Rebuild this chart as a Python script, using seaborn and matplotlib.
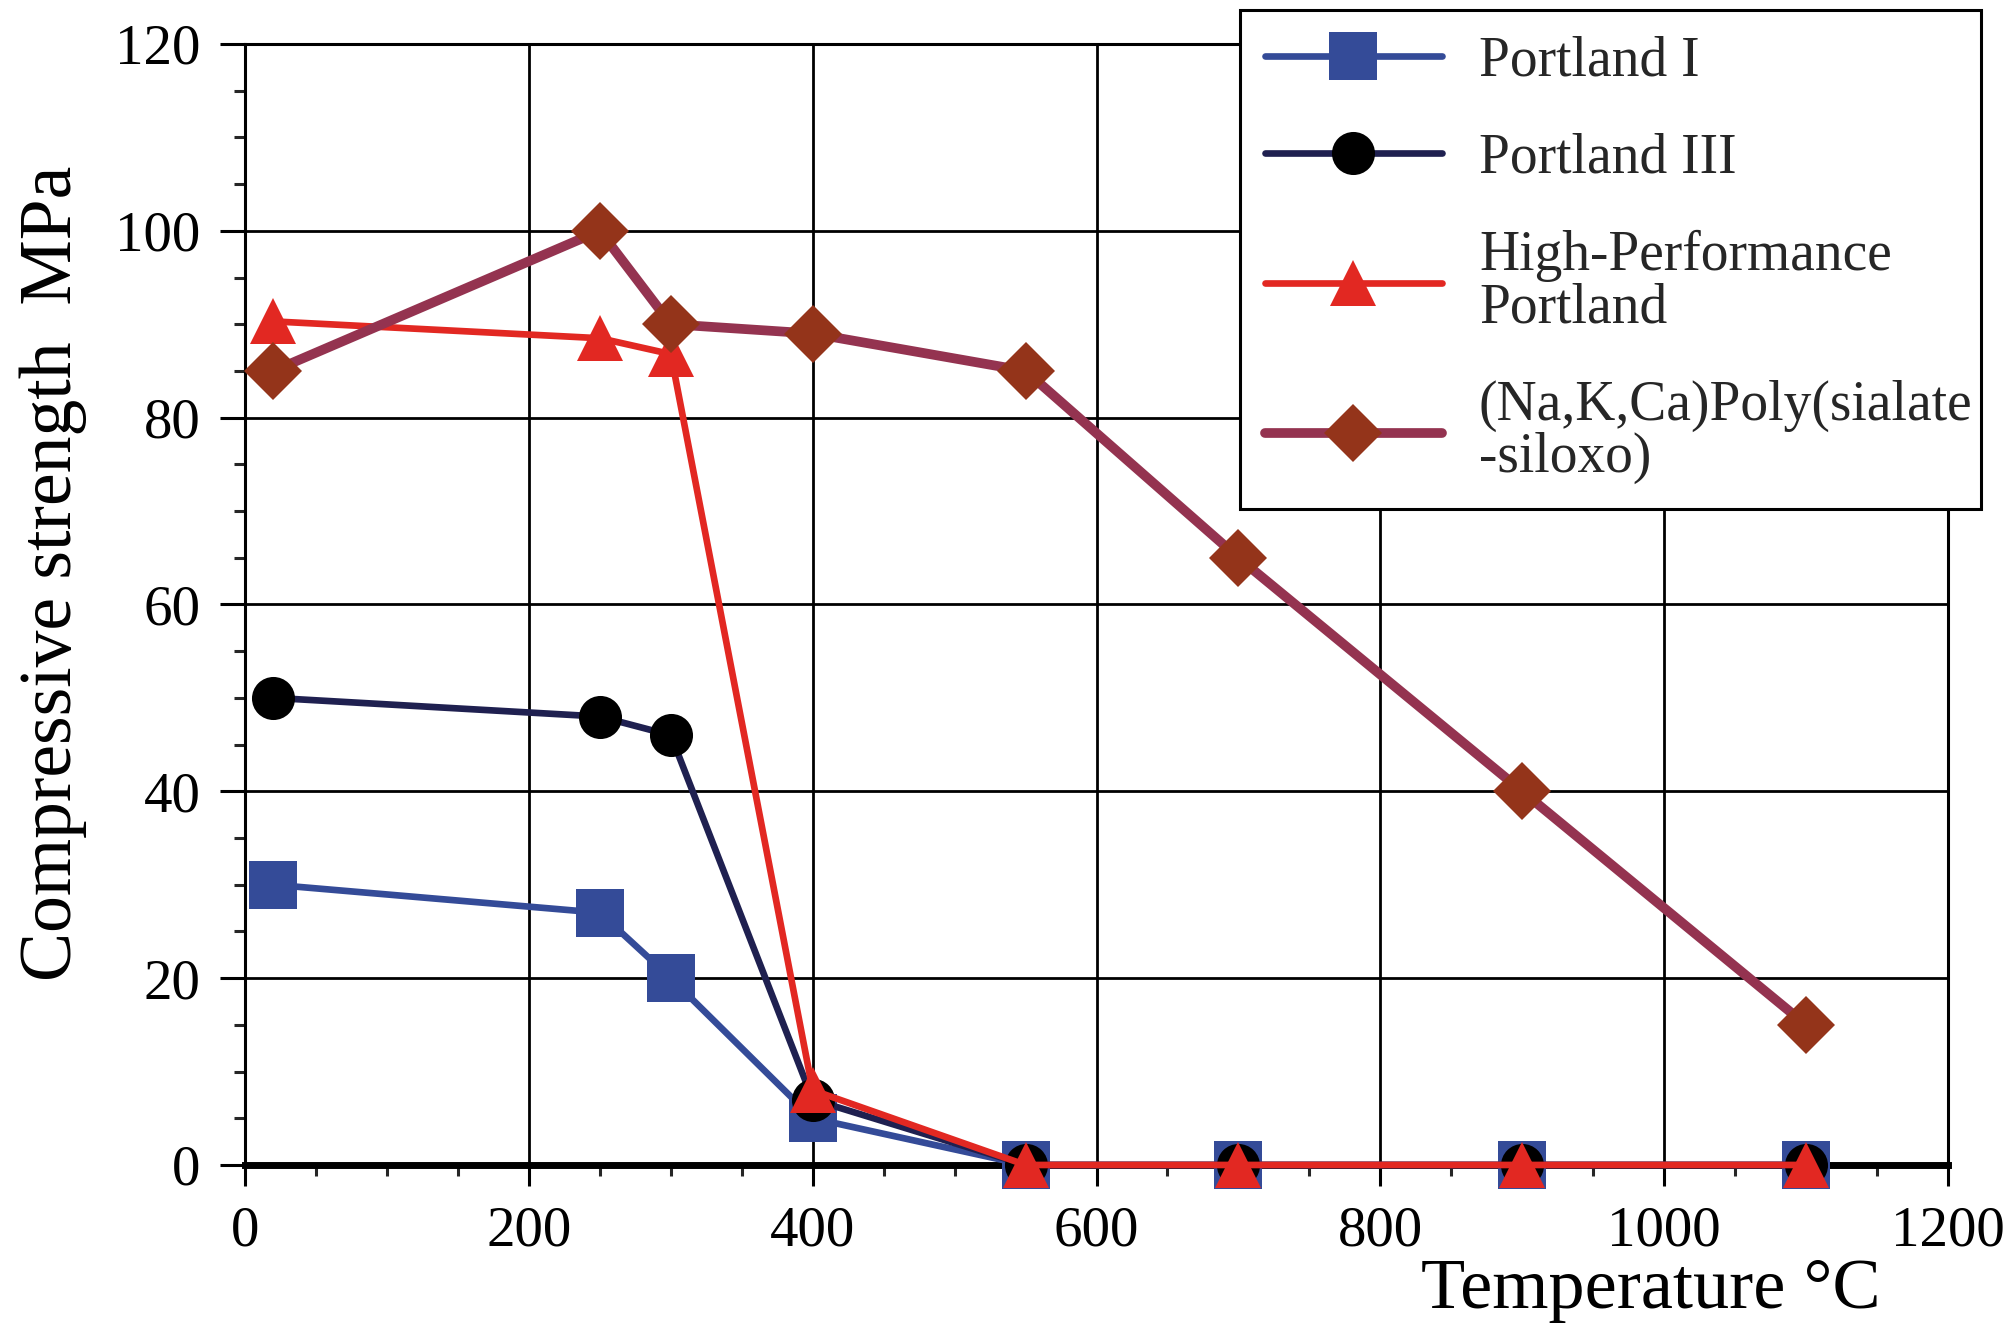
import numpy as np
import pandas as pd
import matplotlib
matplotlib.use("Agg")
import matplotlib.pyplot as plt
from matplotlib.ticker import MultipleLocator
import seaborn as sns

# ---- data ----
temperature = [20, 250, 300, 400, 550, 700, 900, 1100]
portland_1 = [30, 27, 20, 5, 0, 0, 0, 0]
portland_3 = [50, 48, 46, 7, 0, 0, 0, 0]
hp_portland = [90.3, 88.5, 86.8, 8, 0, 0, 0, 0]
geopolymer = [85, 100, 90, 89, 85, 65, 40, 15]

series_labels = ["Portland I", "Portland III", "High-Performance\nPortland",
                 "(Na,K,Ca)Poly(sialate\n-siloxo)"]
x_ticks = [0, 200, 400, 600, 800, 1000, 1200]
y_ticks = [0, 20, 40, 60, 80, 100, 120]

sns.set_style("white")
plt.rcParams["font.family"] = ["Liberation Serif", "DejaVu Serif"]

fig = plt.figure(figsize=(20.09, 13.32), dpi=100)
ax = fig.add_axes([0.122, 0.1254, 0.9696 - 0.122, 0.967 - 0.1254])

styles = [
    dict(color="#344B98", marker="s", markersize=34, markerfacecolor="#344B98", lw=4.8),
    dict(color="#1F2050", marker="o", markersize=31, markerfacecolor="black", lw=4.8),
    dict(color="#E22822", marker="^", markersize=33, markerfacecolor="#E22822", lw=4.8),
    dict(color="#943350", marker="D", markersize=30, markerfacecolor="#94341A", lw=7.0),
]
values = [portland_1, portland_3, hp_portland, geopolymer]

for lab, vals, st in zip(series_labels, values, styles):
    df = pd.DataFrame({"T": temperature, "S": vals})
    st = dict(st)
    lw = st.pop("lw")
    sns.lineplot(data=df, x="T", y="S", ax=ax, estimator=None, sort=False,
                 label=lab, markeredgewidth=0, clip_on=False, zorder=3, **st)
    ax.lines[-1].set_linewidth(lw)

ax.set_xlim(0, 1200)
ax.set_ylim(0, 120)
ax.set_xticks(x_ticks)
ax.set_yticks(y_ticks)
ax.xaxis.set_minor_locator(MultipleLocator(50))
ax.yaxis.set_minor_locator(MultipleLocator(5))
ax.grid(True, which="major", color="black", linewidth=2.0)
ax.set_axisbelow(True)

for side in ["left", "right", "top"]:
    ax.spines[side].set_color("black")
    ax.spines[side].set_linewidth(2.2)
ax.spines["bottom"].set_color("black")
ax.spines["bottom"].set_linewidth(5)

ax.tick_params(axis="y", which="major", direction="out", length=18, width=2.2,
               labelsize=41, pad=14, left=True, right=False, colors="black")
ax.tick_params(axis="y", which="minor", direction="out", length=8, width=2.2,
               left=True, right=False)
ax.tick_params(axis="x", which="major", direction="out", length=15, width=2.2,
               labelsize=41, pad=14, bottom=True, top=False, colors="black")
ax.tick_params(axis="x", which="minor", direction="out", length=8, width=2.2,
               bottom=True, top=False)

ax.set_xlabel("Temperature °C", fontsize=52, ha="right", color="black")
ax.xaxis.set_label_coords(0.9607, -0.083)
ax.set_ylabel("Compressive strength  MPa", fontsize=53, color="black")
ax.yaxis.set_label_coords(-0.093, 0.528)

handles, labels = ax.get_legend_handles_labels()
leg = ax.legend(handles, labels, loc="upper left",
                bbox_to_anchor=(1240 / 2009, 1 - 10 / 1332, (1981 - 1240) / 2009, 0),
                bbox_transform=fig.transFigure, mode="expand", borderaxespad=0,
                fancybox=False, edgecolor="black", framealpha=1, fontsize=40,
                handlelength=3.18, handletextpad=0.67, borderpad=0.45,
                labelspacing=0.82, numpoints=1)
leg.get_frame().set_linewidth(2.2)
for t in leg.get_texts():
    t.set_linespacing(1.0)
for h, st in zip(leg.legend_handles, styles):
    h.set_linewidth(st["lw"])

fig.savefig("out.png", dpi=100)
